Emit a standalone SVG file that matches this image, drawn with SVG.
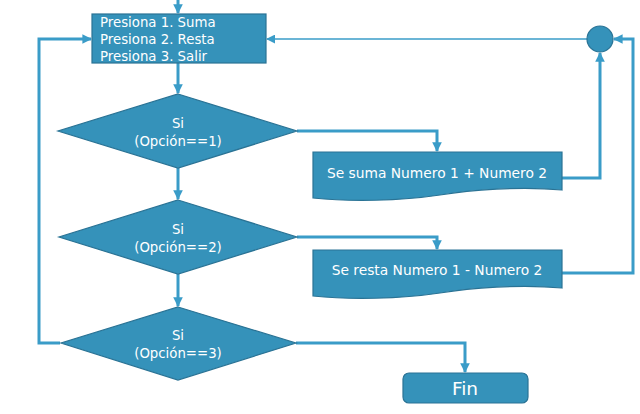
<svg xmlns="http://www.w3.org/2000/svg" width="640" height="414" viewBox="0 0 640 414">
<defs>
<marker id="ah" viewBox="0 0 10 10" refX="9" refY="5" markerWidth="3.2" markerHeight="3.2" orient="auto" markerUnits="strokeWidth">
<path d="M0,0 L10,5 L0,10 z" fill="#3A9CC8"/>
</marker>
<marker id="ah2" viewBox="0 0 10 10" refX="9" refY="5" markerWidth="6" markerHeight="6" orient="auto" markerUnits="strokeWidth">
<path d="M0,0 L10,5 L0,10 z" fill="#3A9CC8"/>
</marker>
</defs>
<style>
.shape{fill:#3592BA;stroke:#2A7395;stroke-width:1.2}
.c{fill:none;stroke:#3A9CC8;stroke-width:3}
.thin{fill:none;stroke:#3A9CC8;stroke-width:1.5}
text{font-family:"DejaVu Sans","Noto Sans",sans-serif;fill:#FFFFFF}
.t{font-size:13.3px}
.m{font-size:13.3px;text-anchor:middle}
.d{font-size:13.8px;text-anchor:middle}
</style>
<rect width="640" height="414" fill="#FFFFFF"/>
<g id="connectors">
<path class="c" d="M178,0 V13" marker-end="url(#ah)"/>
<path class="c" d="M178,63 V93" marker-end="url(#ah)"/>
<path class="c" d="M178,168 V199" marker-end="url(#ah)"/>
<path class="c" d="M178,274 V306" marker-end="url(#ah)"/>
<path class="c" d="M297,131 H437 V151" marker-end="url(#ah)"/>
<path class="c" d="M297,237 H437 V249" marker-end="url(#ah)"/>
<path class="c" d="M562,178 H600 V53" marker-end="url(#ah)"/>
<path class="c" d="M562,273 H633 V39 H614" marker-end="url(#ah)"/>
<path class="thin" d="M587,39 H267" marker-end="url(#ah2)"/>
<path class="c" d="M60,343 H39 V39 H91" marker-end="url(#ah)"/>
<path class="c" d="M296,343 H465 V372" marker-end="url(#ah)"/>
</g>
<g id="menu">
<rect class="shape" x="92" y="14" width="174" height="49"/>
<text class="t" x="100" y="27">Presiona 1. Suma</text>
<text class="t" x="100" y="44">Presiona 2. Resta</text>
<text class="t" x="100" y="61">Presiona 3. Salir</text>
</g>
<g id="d1">
<polygon class="shape" points="178,94 297,131 178,168 58,131"/>
<text class="m" x="178" y="128">Si</text>
<text class="m" x="178" y="146">(Opción==1)</text>
</g>
<g id="d2">
<polygon class="shape" points="178,200 297,237 178,274 59,237"/>
<text class="m" x="178" y="234">Si</text>
<text class="m" x="178" y="252">(Opción==2)</text>
</g>
<g id="d3">
<polygon class="shape" points="178,307 296,343 178,380 61,343"/>
<text class="m" x="178" y="340">Si</text>
<text class="m" x="178" y="358">(Opción==3)</text>
</g>
<g id="suma">
<path class="shape" d="M313,152 H562 V190 C520,186 470,190 440,195 C400,201 350,202 313,198 Z"/>
<text class="d" x="437" y="178">Se suma Numero 1 + Numero 2</text>
</g>
<g id="resta">
<path class="shape" d="M313,250 H562 V288 C520,284 470,288 440,293 C400,299 350,300 313,296 Z"/>
<text class="d" x="437" y="275">Se resta Numero 1 - Numero 2</text>
</g>
<g id="conector">
<circle class="shape" cx="600" cy="39" r="13"/>
</g>
<g id="fin">
<rect class="shape" x="403" y="373" width="125" height="30" rx="6"/>
<text x="465" y="395" style="font-size:18.5px;text-anchor:middle">Fin</text>
</g>
</svg>
